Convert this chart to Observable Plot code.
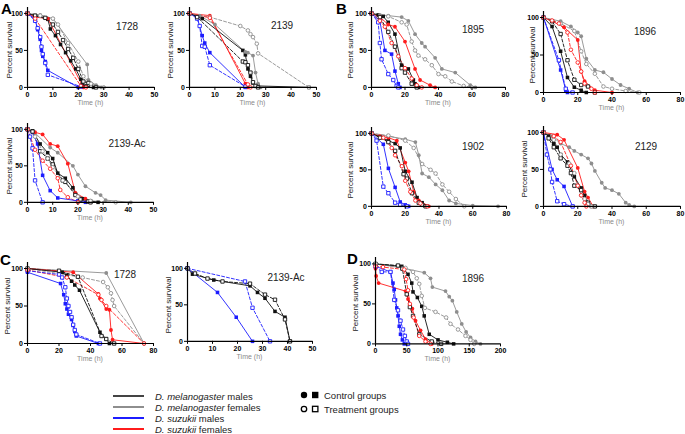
<!DOCTYPE html>
<html><head><meta charset="utf-8">
<script src="https://cdn.jsdelivr.net/npm/d3@7"></script>
<script src="https://cdn.jsdelivr.net/npm/@observablehq/plot@0.6"></script>
<style>
body{margin:0;background:#fff;}
#root{position:relative;width:685px;height:434px;overflow:hidden;font-family:"Liberation Sans",Arial,sans-serif;background:#fff;}
.pl{position:absolute;overflow:visible;}
.lab{position:absolute;font-size:10px;color:#222;transform:translate(-50%,-50%);white-space:nowrap;}
.let{position:absolute;font-size:15px;font-weight:bold;line-height:1;}
.ylab{position:absolute;font-size:8px;color:#222;white-space:nowrap;transform:translate(-50%,-50%) rotate(-90deg);}
.xlab{position:absolute;font-size:7px;color:#8a8a8a;white-space:nowrap;transform:translate(-50%,-50%);}
.leg{position:absolute;font-size:9.5px;color:#222;white-space:nowrap;transform:translateY(-50%);}
</style></head><body><div id="root"></div>
<script>
// Series: [group, control(c)/treatment(t), [[time, percent survival], ...]]
// groups: mm = D. melanogaster males, mf = D. melanogaster females, sm = D. suzukii males, sf = D. suzukii females
const A_1728 = [
  ["mf","c",[[0,100],[5,98],[10,93],[23.5,31],[24,10],[27,3],[29,0]]],
  ["mf","t",[[0,100],[5,97],[10,93],[12,85],[16,60],[20,35],[22,15],[25,5],[30,0]]],
  ["sf","c",[[0,100],[3,95],[8,93],[22,0]]],
  ["sf","t",[[0,100],[3,93],[21,2],[23,0]]],
  ["sm","c",[[0,100],[3,92],[4,78],[5,65],[5.5,50],[6,42],[7,35],[8,23],[20,0]]],
  ["sm","t",[[0,100],[3,90],[4,80],[5,68],[5.5,55],[6,45],[7,33],[8,17],[21,1]]],
  ["mm","c",[[0,100],[3,97],[8,92],[9,79],[11,70],[13,58],[15,47],[17,36],[19,25],[21,11],[21.5,4],[23,2],[26,0]]],
  ["mm","t",[[0,100],[3,97],[7,94],[10,85],[12,75],[14,64],[16,52],[18,40],[20,25],[22,8],[24,6],[25,2],[27,0]]]
];
const A_2139 = [
  ["mf","c",[[0,100],[4,97],[10,85],[22,48],[23,47],[25,43],[26,20],[27,5],[28,0]]],
  ["mf","t",[[0,100],[8,95],[20,83],[23,77],[24,72],[25,68],[26.5,59],[27,46],[47,0]]],
  ["sf","c",[[0,100],[8,97],[22,5],[23,0]]],
  ["sf","t",[[0,100],[8,94],[23,4],[24,0]]],
  ["sm","c",[[0,100],[3,95],[5,70],[6,60],[8,47],[22,0]]],
  ["sm","t",[[0,100],[3,93],[4,83],[5,56],[6,55],[8,30],[22,1]]],
  ["mm","c",[[0,100],[5,93],[21,50],[22,44],[23,25],[24,15],[25,6],[27,2],[47,0]]],
  ["mm","t",[[0,100],[3,95],[21,35],[22,34],[23,30],[24,20],[25,7],[26,2],[27,0]]]
];
const A_2139Ac = [
  ["mf","c",[[0,100],[3,95],[9,75],[12,68],[18,50],[20,38],[23,22],[27,13],[29,10],[31,3],[41,0]]],
  ["mf","t",[[0,100],[3,90],[6,70],[8,60],[10,48],[14,30],[20,8],[25,2],[35,0]]],
  ["sf","c",[[0,100],[3,96],[6,93],[9,80],[12,77],[16,53],[19,13],[23,5],[25,0]]],
  ["sf","t",[[0,100],[3,72],[6,57],[9,46],[12,33],[13,17],[16,7],[20,0]]],
  ["sm","c",[[0,100],[2,96],[4,80],[6,37],[9,16],[12,6],[20,2],[23,0]]],
  ["sm","t",[[0,100],[1,90],[2,74],[3,30],[6,0]]],
  ["mm","c",[[0,100],[2,98],[5,80],[8,68],[10,60],[12,40],[15,33],[18,20],[19,12],[22,5],[25,2],[28,0]]],
  ["mm","t",[[0,100],[2,97],[5,70],[8,60],[10,52],[14,30],[15,28],[19,10],[21,4],[24,1],[25,0]]]
];
const B_1895 = [
  ["mf","c",[[0,100],[5,98],[10,97],[18,95],[22,90],[26,72],[30,60],[32,55],[38,40],[42,25],[50,20],[59,3],[62,0]]],
  ["mf","t",[[0,100],[10,96],[18,88],[21,85],[24,62],[26,50],[28,43],[32,38],[36,30],[40,18],[44,15],[48,8],[55,2],[60,0]]],
  ["sf","c",[[0,100],[5,95],[10,85],[14,82],[20,62],[26,25],[29,10],[35,3],[38,0]]],
  ["sf","t",[[0,100],[5,90],[8,82],[12,60],[16,42],[20,26],[24,12],[27,3],[30,0]]],
  ["sm","c",[[0,100],[5,90],[8,50],[12,45],[14,22],[16,5],[17,0]]],
  ["sm","t",[[0,100],[4,88],[5,60],[6,38],[10,18],[13,10],[15,2],[16,0]]],
  ["mm","c",[[0,100],[4,98],[7,96],[10,88],[14,72],[18,30],[22,25],[25,10],[26,5],[28,0]]],
  ["mm","t",[[0,100],[5,95],[10,75],[14,55],[18,26],[20,20],[24,5],[27,0]]]
];
const B_1896 = [
  ["mf","c",[[0,100],[10,95],[16,88],[20,80],[22,75],[25,45],[30,30],[35,27],[40,18],[45,10],[50,5],[55,0]]],
  ["mf","t",[[0,100],[10,92],[18,82],[22,55],[25,38],[30,25],[35,8],[40,5],[48,2],[56,0]]],
  ["sf","c",[[0,100],[5,95],[12,87],[20,70],[22,28],[24,15],[30,3],[40,0]]],
  ["sf","t",[[0,100],[5,96],[9,92],[14,80],[16,57],[20,40],[22,28],[24,12],[28,5],[30,0]]],
  ["sm","c",[[0,100],[10,30],[13,3],[14,0]]],
  ["sm","t",[[0,100],[9,43],[13,5],[17,0]]],
  ["mm","c",[[0,100],[5,88],[10,55],[14,20],[18,7],[22,3],[25,0]]],
  ["mm","t",[[0,100],[5,95],[10,78],[14,43],[18,17],[22,10],[26,8],[30,0]]]
];
const B_1902 = [
  ["mf","c",[[0,100],[10,96],[20,92],[26,88],[28,70],[30,45],[34,40],[38,30],[42,22],[46,8],[50,4],[60,1],[75,0]]],
  ["mf","t",[[0,100],[10,97],[20,90],[25,80],[30,58],[35,50],[38,45],[42,30],[46,20],[50,10],[55,0]]],
  ["sf","c",[[0,100],[5,96],[10,94],[15,90],[20,60],[22,48],[25,20],[28,8],[31,2],[34,0]]],
  ["sf","t",[[0,100],[7,94],[12,80],[14,70],[18,55],[20,35],[23,20],[26,8],[29,4],[33,0]]],
  ["sm","c",[[0,100],[7,85],[10,52],[14,26],[17,6],[20,2],[22,0]]],
  ["sm","t",[[0,100],[3,90],[7,27],[10,18],[14,5],[17,2],[21,0]]],
  ["mm","c",[[0,100],[5,95],[10,90],[14,86],[17,80],[20,48],[24,33],[27,12],[30,5],[33,0]]],
  ["mm","t",[[0,100],[5,94],[10,88],[14,76],[19,44],[21,38],[24,18],[28,5],[30,2],[32,0]]]
];
const B_2129 = [
  ["mf","c",[[0,100],[5,95],[10,85],[15,80],[18,75],[22,70],[26,65],[28,58],[30,48],[34,32],[36,25],[40,22],[44,17],[48,5],[50,2],[53,0]]],
  ["mf","t",[[0,100],[6,90],[10,70],[15,58],[18,45],[20,28],[22,15],[24,10],[26,3],[28,0]]],
  ["sf","c",[[0,100],[8,97],[12,90],[20,52],[24,20],[26,12],[29,0]]],
  ["sf","t",[[0,100],[6,95],[10,87],[16,55],[20,28],[22,15],[24,5],[25,0]]],
  ["sm","c",[[0,100],[5,50],[8,36],[12,27],[17,0]]],
  ["sm","t",[[0,100],[2,70],[4,50],[5,33],[8,7],[12,3],[17,0]]],
  ["mm","c",[[0,100],[3,95],[6,85],[8,80],[10,70],[14,60],[18,40],[22,25],[24,15],[26,5],[28,0]]],
  ["mm","t",[[0,100],[3,92],[6,80],[10,65],[14,55],[16,45],[18,28],[22,22],[26,5],[30,0]]]
];
const C_1728 = [
  ["mf","c",[[0,100],[50,94],[74,0]]],
  ["mf","t",[[0,100],[35,88],[48,82],[51,75],[53,67],[54,58],[55,50],[74,0]]],
  ["sf","c",[[0,100],[29,95],[45,66],[46,60],[50,46],[52,45],[53,18],[54,5],[74,0]]],
  ["sf","t",[[0,98],[25,88],[45,65],[47,58],[50,50],[74,0]]],
  ["sm","c",[[0,95],[21,80],[23,65],[24,53],[25,46],[26,39],[28,32],[29,24],[30,16],[31,10],[45,0]]],
  ["sm","t",[[0,97],[20,92],[22,88],[24,75],[25,60],[26,50],[27,42],[28,35],[29,25],[30,18],[31,12],[46,0]]],
  ["mm","c",[[0,100],[22,95],[25,91],[28,83],[30,78],[33,71],[46,15],[50,6],[52,0]]],
  ["mm","t",[[0,100],[20,97],[32,89],[47,10],[50,6],[55,0]]]
];
const C_2139Ac = [
  ["sm","c",[[0,100],[12,67],[19.5,33],[26,0]]],
  ["sm","t",[[0,100],[23,82],[26,46],[33,0]]],
  ["mm","c",[[0,100],[2,92],[10.5,84],[25,76],[28,67],[31,59],[35,41],[39,33],[41,0]]],
  ["mm","t",[[0,100],[3,93],[8,86],[14,82],[25,79],[31,64],[35,57],[39,30],[41,0]]]
];
const D_1896 = [
  ["mf","c",[[0,100],[43,95],[78,89],[88,82],[91,71],[112,66],[118,59],[123,54],[130,40],[138,25],[145,15],[152,8],[160,3],[168,0]]],
  ["mf","t",[[0,100],[48,95],[60,90],[66,82],[70,75],[74,60],[79,45],[96,40],[113,33],[120,25],[132,18],[144,10],[152,5],[158,0]]],
  ["sf","c",[[0,94],[1,85],[5,76],[48,66],[52,56],[59,44],[64,29],[72,17],[80,6],[90,0]]],
  ["sf","t",[[0,97],[12,96],[46,93],[49,81],[52,67],[55,50],[61,33],[70,10],[80,3],[88,0]]],
  ["sm","c",[[0,97],[24,90],[28,76],[30,68],[32,55],[34,45],[36,35],[38,22],[40,12],[43,5],[46,0]]],
  ["sm","t",[[0,97],[10,90],[24,90],[30,55],[36,42],[40,29],[44,18],[47,10],[50,3],[52,0]]],
  ["mm","c",[[0,100],[42,97],[52,87],[58,76],[60,65],[67,58],[74,47],[78,35],[86,12],[100,5],[115,2],[125,0]]],
  ["mm","t",[[0,100],[36,98],[43,94],[50,62],[55,46],[60,35],[70,12],[90,3],[105,0]]]
];

const ticks50 = [0,10,20,30,40,50];
const ticks80 = [0,20,40,60,80];
const ticks200 = [0,50,100,150,200];
const panelNames = ["1728","2139","2139-Ac","1895","1896","1902","2129","1728","2139-Ac","1896"];

const COLORS = {mm:"#111111", mf:"#8e8e8e", sm:"#1c1cff", sf:"#ff1c1c"};
const SYM = {mm:"square", mf:"circle", sm:"square", sf:"circle"};

const panels = [
  {name:panelNames[0], data:A_1728, xmax:50, ticks:ticks50, x0:27, x1:154, y100:13, y0:87, lx:127, ly:26, yo:18},
  {name:panelNames[1], data:A_2139, xmax:50, ticks:ticks50, x0:189, x1:316, y100:13, y0:87, lx:282, ly:25, yo:19},
  {name:panelNames[2], data:A_2139Ac, xmax:50, ticks:ticks50, x0:27, x1:153, y100:129, y0:202, lx:127, ly:143, yo:18},
  {name:panelNames[3], data:B_1895, xmax:80, ticks:ticks80, x0:371, x1:505, y100:13, y0:87, lx:473, ly:29, yo:21},
  {name:panelNames[4], data:B_1896, xmax:80, ticks:ticks80, x0:543, x1:680, y100:17, y0:92, lx:645, ly:31, yo:11},
  {name:panelNames[5], data:B_1902, xmax:80, ticks:ticks80, x0:371, x1:506, y100:133, y0:206, lx:473, ly:146, yo:21},
  {name:panelNames[6], data:B_2129, xmax:80, ticks:ticks80, x0:543, x1:680, y100:132, y0:206, lx:646, ly:146, yo:19},
  {name:panelNames[7], data:C_1728, xmax:80, ticks:ticks80, x0:27, x1:153, y100:268, y0:343, lx:125, ly:274, yo:20},
  {name:panelNames[8], data:C_2139Ac, xmax:50, ticks:ticks50, x0:187, x1:312, y100:268, y0:341, lx:286, ly:277, yo:19},
  {name:panelNames[9], data:D_1896, xmax:200, ticks:ticks200, x0:375, x1:500, y100:263, y0:343, lx:473, ly:278, yo:20}
];

const root = document.getElementById("root");

function makePanel(p){
  const ml=30, mr=6, mt=4, mb=12, ymax=108;
  const yTop = p.y0 - (p.y0-p.y100)*ymax/100;
  const innerH = p.y0 - yTop;
  const width = (p.x1-p.x0)+ml+mr;
  const height = innerH+mt+mb;
  const rows = [];
  p.data.forEach(([g,k,pts],i)=>pts.forEach(([t,s])=>rows.push({id:i,g,k,t,s,col:COLORS[g]})));
  const ctrl = rows.filter(d=>d.k==="c"), trt = rows.filter(d=>d.k==="t");
  const svg = Plot.plot({
    width, height, marginLeft:ml, marginRight:mr, marginTop:mt, marginBottom:mb,
    style:{fontFamily:"'Liberation Sans',Arial,sans-serif", background:"transparent", overflow:"visible"},
    x:{domain:[0,p.xmax]}, y:{domain:[0,ymax]},
    color:{type:"identity"},
    marks:[
      Plot.line(trt,{x:"t",y:"s",z:"id",stroke:"col",strokeWidth:0.9,strokeDasharray:"3,2"}),
      Plot.line(ctrl,{x:"t",y:"s",z:"id",stroke:"col",strokeWidth:0.9}),
      Plot.dot(ctrl.filter(d=>SYM[d.g]==="square"),{x:"t",y:"s",symbol:"square",r:2,fill:"col",stroke:"none"}),
      Plot.dot(ctrl.filter(d=>SYM[d.g]==="circle"),{x:"t",y:"s",symbol:"circle",r:1.9,fill:"col",stroke:"none"}),
      Plot.dot(trt.filter(d=>SYM[d.g]==="square"),{x:"t",y:"s",symbol:"square",r:1.9,fill:"white",stroke:"col",strokeWidth:0.9}),
      Plot.dot(trt.filter(d=>SYM[d.g]==="circle"),{x:"t",y:"s",symbol:"circle",r:1.8,fill:"white",stroke:"col",strokeWidth:0.9}),
      Plot.ruleX([0],{stroke:"#000",strokeWidth:1.2}),
      Plot.ruleY([0],{stroke:"#000",strokeWidth:1.2}),
      Plot.axisX({ticks:p.ticks, tickSize:3, tickPadding:1.5, fontSize:7, fontWeight:"bold", label:null, tickFormat:d=>String(d)}),
      Plot.axisY({ticks:[0,50,100], tickSize:3, tickPadding:1.5, fontSize:7, fontWeight:"bold", label:null, tickFormat:d=>String(d)})
    ]
  });
  svg.classList.add("pl");
  svg.style.left = (p.x0-ml)+"px";
  svg.style.top = (yTop-mt)+"px";
  root.appendChild(svg);
  const lab = document.createElement("div");
  lab.className="lab"; lab.textContent=p.name;
  lab.style.left=p.lx+"px"; lab.style.top=p.ly+"px";
  root.appendChild(lab);
  const yl = document.createElement("div");
  yl.className="ylab"; yl.textContent="Percent survival";
  yl.style.left=(p.x0-p.yo)+"px"; yl.style.top=((p.y0+p.y100)/2)+"px";
  root.appendChild(yl);
  const xl = document.createElement("div");
  xl.className="xlab"; xl.textContent="Time (h)";
  xl.style.left=((p.x0+p.x1)/2)+"px"; xl.style.top=(p.y0+15)+"px";
  root.appendChild(xl);
}
panels.forEach(makePanel);

// panel letters
[["A",1,1],["B",336,1],["C",0,252],["D",347,251]].forEach(([t,x,y])=>{
  const d=document.createElement("div"); d.className="let"; d.textContent=t;
  d.style.left=x+"px"; d.style.top=y+"px"; root.appendChild(d);
});

// legend
const legendItems = [
  ["mm", "<i>D. melanogaster</i> males", 396],
  ["mf", "<i>D. melanogaster</i> females", 407],
  ["sm", "<i>D. suzukii</i> males", 418],
  ["sf", "<i>D. suzukii</i> females", 429]
];
const ns="http://www.w3.org/2000/svg";
const lsvg=document.createElementNS(ns,"svg");
lsvg.setAttribute("width",685); lsvg.setAttribute("height",434);
lsvg.style.position="absolute"; lsvg.style.left="0"; lsvg.style.top="0";
legendItems.forEach(([g,txt,y])=>{
  const l=document.createElementNS(ns,"line");
  l.setAttribute("x1",113); l.setAttribute("x2",144); l.setAttribute("y1",y); l.setAttribute("y2",y);
  l.setAttribute("stroke",COLORS[g]==="#111111"?"#444":COLORS[g]); l.setAttribute("stroke-width",2);
  lsvg.appendChild(l);
  const d=document.createElement("div"); d.className="leg"; d.innerHTML=txt;
  d.style.left="155px"; d.style.top=y+"px"; root.appendChild(d);
});
[[395,true,"Control groups"],[409,false,"Treatment groups"]].forEach(([y,filled,txt])=>{
  const c=document.createElementNS(ns,"circle");
  c.setAttribute("cx",304); c.setAttribute("cy",y); c.setAttribute("r",filled?3.2:2.7);
  c.setAttribute("fill",filled?"#000":"#fff"); c.setAttribute("stroke","#000"); c.setAttribute("stroke-width",filled?0:1.3);
  lsvg.appendChild(c);
  const r=document.createElementNS(ns,"rect");
  r.setAttribute("x",filled?312:312.5); r.setAttribute("y",y-(filled?3.2:2.7)); r.setAttribute("width",filled?6.4:5.4); r.setAttribute("height",filled?6.4:5.4);
  r.setAttribute("fill",filled?"#000":"#fff"); r.setAttribute("stroke","#000"); r.setAttribute("stroke-width",filled?0:1.3);
  lsvg.appendChild(r);
  const d=document.createElement("div"); d.className="leg"; d.textContent=txt;
  d.style.left="324px"; d.style.top=y+"px"; root.appendChild(d);
});
root.insertBefore(lsvg, root.firstChild);
</script></body></html>
